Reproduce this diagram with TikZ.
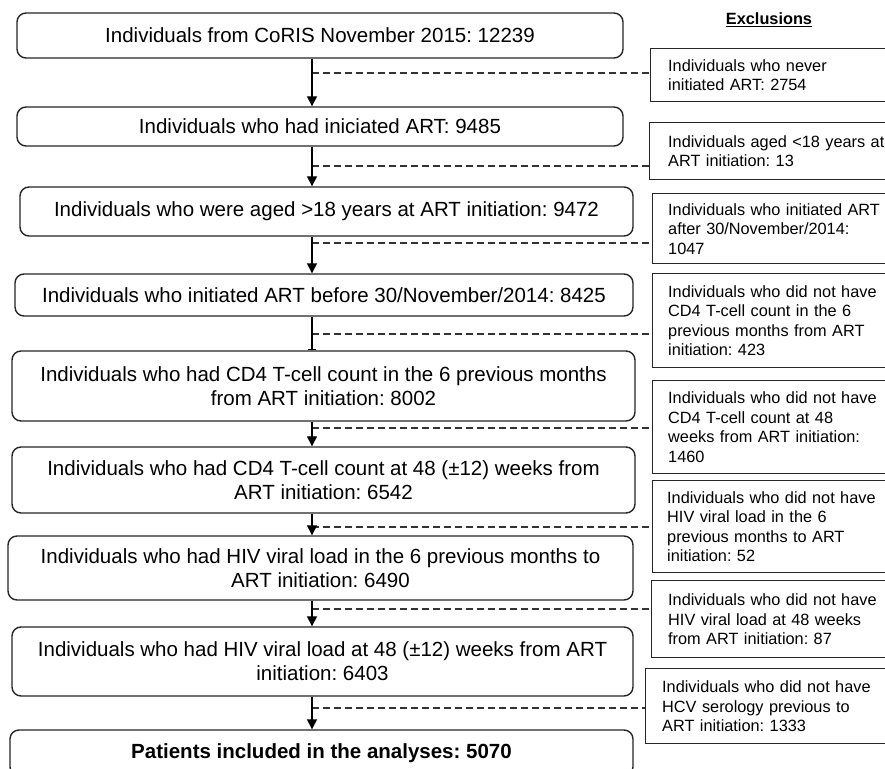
\documentclass[tikz,border=0pt]{standalone}
\usepackage{fontspec}
\setmainfont{Liberation Sans}
\usetikzlibrary{arrows.meta}
\frenchspacing
\begin{document}
\begin{tikzpicture}[x=1pt,y=-1pt,
  mainbox/.style={draw=black!85, line width=1.4pt, rounded corners=9pt, fill=white, inner sep=0pt, align=center, font=\fontsize{20.5}{24}\selectfont},
  exbox/.style={draw=black!85, line width=1.4pt, fill=white, inner sep=0pt, anchor=north west},
  extext/.style={anchor=west, inner sep=0pt, text width=235pt, align=left, font=\fontsize{16.3}{19.5}\selectfont},
  arr/.style={line width=1.3pt, -{Triangle[length=10pt,width=10pt]}},
  exdash/.style={line width=1.2pt, dash pattern=on 7pt off 4pt, draw=black!80},
]
\useasboundingbox (0,0) rectangle (885,768);
\clip (0,0) rectangle (885,768);
\fill[white] (0,0) rectangle (885,768);

\coordinate (sp) at (312,0);

% main column
\node[mainbox, minimum width=606pt, minimum height=45pt] (b1) at (320,35.5) {Individuals from CoRIS November 2015: 12239};
\node[mainbox, minimum width=606pt, minimum height=39pt] (b2) at (320,126.5) {Individuals who had iniciated ART: 9485};
\node[mainbox, minimum width=613pt, minimum height=49pt] (b3) at (326.5,211.5) {Individuals who were aged >18 years at ART initiation: 9472};
\node[mainbox, minimum width=618pt, minimum height=42pt] (b4) at (324,295) {Individuals who initiated ART before 30/November/2014: 8425};
\node[mainbox, minimum width=623pt, minimum height=70pt] (b5) at (323.5,386) {Individuals who had CD4 T-cell count in the 6 previous months\\from ART initiation: 8002};
\node[mainbox, minimum width=623pt, minimum height=66pt] (b6) at (323.5,480) {Individuals who had CD4 T-cell count at 48 (±12) weeks from\\ART initiation: 6542};
\node[mainbox, minimum width=625pt, minimum height=64pt] (b7) at (320.5,568) {Individuals who had HIV viral load in the 6 previous months to\\ART initiation: 6490};
\node[mainbox, minimum width=621pt, minimum height=69pt] (b8) at (322.5,661.5) {Individuals who had HIV viral load at 48 (±12) weeks from ART\\initiation: 6403};
\node[mainbox, minimum width=623pt, minimum height=46pt, font=\fontsize{20.5}{24}\selectfont\bfseries] (b9) at (321.5,753) {Patients included in the analyses: 5070};

% exclusions header
\node[inner sep=0pt, font=\fontsize{16.3}{19.5}\selectfont\bfseries] (hdr) at (769,20) {\underline{Exclusions}};

% exclusion boxes
\node[exbox, minimum width=250pt, minimum height=53pt] (e1) at (650,48) {};
\node[exbox, minimum width=251pt, minimum height=57pt] (e2) at (649,122) {};
\node[exbox, minimum width=248pt, minimum height=70pt] (e3) at (652,193) {};
\node[exbox, minimum width=248pt, minimum height=94pt] (e4) at (652,273) {};
\node[exbox, minimum width=248pt, minimum height=93pt] (e5) at (652,380) {};
\node[exbox, minimum width=248pt, minimum height=92pt] (e6) at (652,480) {};
\node[exbox, minimum width=249pt, minimum height=77pt] (e7) at (651,580) {};
\node[exbox, minimum width=255pt, minimum height=75pt] (e8) at (645,668) {};

\node[extext] (t1) at ([xshift=18pt]e1.west) {Individuals who never\\initiated ART: 2754};
\node[extext] (t2) at ([xshift=19pt]e2.west) {Individuals aged <18 years at\\ART initiation: 13};
\node[extext] (t3) at ([xshift=16pt]e3.west) {Individuals who initiated ART\\after 30/November/2014:\\1047};
\node[extext] (t4) at ([xshift=16pt]e4.west) {Individuals who did not have\\CD4 T-cell count in the 6\\previous months from ART\\initiation: 423};
\node[extext] (t5) at ([xshift=16pt]e5.west) {Individuals who did not have\\CD4 T-cell count at 48\\weeks from ART initiation:\\1460};
\node[extext] (t6) at ([xshift=15pt]e6.west) {Individuals who did not have\\HIV viral load in the 6\\previous months to ART\\initiation: 52};
\node[extext] (t7) at ([xshift=17pt]e7.west) {Individuals who did not have\\HIV viral load at 48 weeks\\from ART initiation: 87};
\node[extext] (t8) at ([xshift=17pt]e8.west) {Individuals who did not have\\HCV serology previous to\\ART initiation: 1333};

% dashed exclusion lines
\coordinate (d1) at (312,73);
\coordinate (d2) at (312,166);
\coordinate (d3) at (312,243);
\coordinate (d4) at (312,334);
\coordinate (d5) at (312,428);
\coordinate (d6) at (312,527);
\coordinate (d7) at (312,609);
\coordinate (d8) at (312,708);
\foreach \i in {1,...,8} {
  \draw[exdash] (d\i) -- (d\i -| e\i.west);
}

% arrows
\draw[arr] (b1.south -| sp) -- (b2.north -| sp);
\draw[arr] (b2.south -| sp) -- (b3.north -| sp);
\draw[arr] (b3.south -| sp) -- (b4.north -| sp);
\draw[line width=1.3pt, -{Bar[width=8pt]}] (b4.south -| sp) -- (b5.north -| sp);
\draw[arr] (b5.south -| sp) -- (b6.north -| sp);
\draw[arr] (b6.south -| sp) -- (b7.north -| sp);
\draw[arr] (b7.south -| sp) -- (b8.north -| sp);
\draw[arr] (b8.south -| sp) -- (b9.north -| sp);
\end{tikzpicture}
\end{document}
